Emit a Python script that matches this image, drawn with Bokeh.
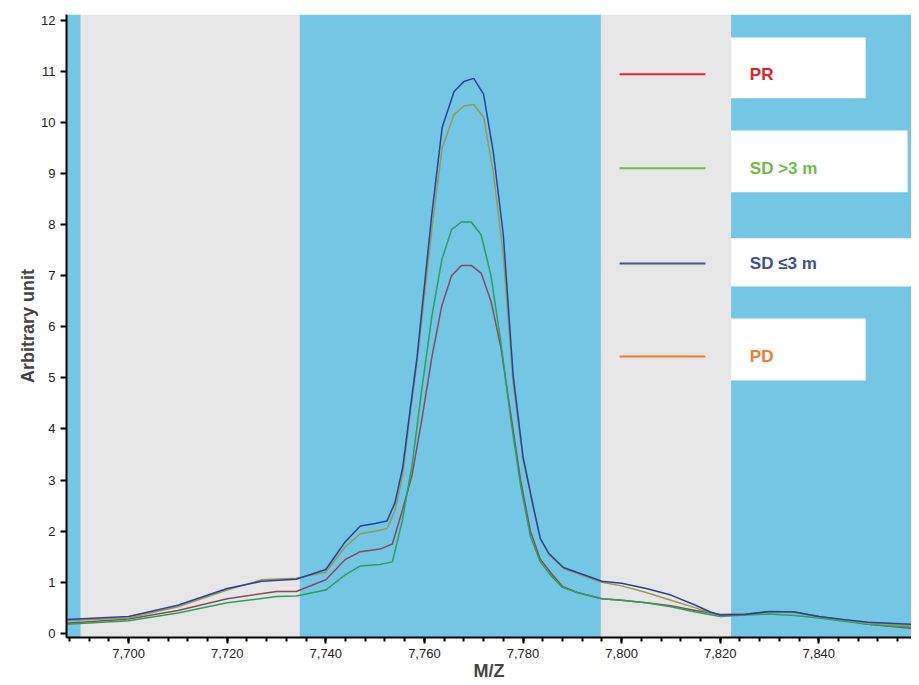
from bokeh.plotting import figure
from bokeh.models import NumeralTickFormatter, Range1d, FixedTicker
from bokeh.core.properties import value
from bokeh.embed import file_html
from bokeh.resources import INLINE

# background bands (m/z) and colours
band_x0 = [7687.4, 7690.3, 7734.7, 7795.8, 7822.2]
band_x1 = [7690.3, 7734.7, 7795.8, 7822.2, 7858.8]
band_col = ["#74c6e5", "#e6e6e6", "#74c6e5", "#e6e6e6", "#74c6e5"]

mz_a = [7687.4, 7700, 7710, 7720, 7727, 7734, 7740, 7744, 7747, 7750,
        7752.4, 7754, 7755.6, 7757, 7758.5, 7760, 7761.5, 7763.6, 7766, 7768,
        7770, 7772, 7774, 7776, 7778, 7780, 7782, 7783.5, 7785.2, 7788.2,
        7796, 7800, 7805, 7810, 7815, 7818, 7820, 7825, 7830, 7835,
        7840, 7845, 7850, 7858.8]
sd_le3 = [0.27, 0.33, 0.55, 0.88, 1.02, 1.06, 1.25, 1.8, 2.1, 2.15,
          2.2, 2.55, 3.25, 4.3, 5.4, 6.8, 8.2, 9.9, 10.6, 10.8,
          10.86, 10.55, 9.4, 7.8, 5.05, 3.46, 2.52, 1.86, 1.57, 1.29,
          1.02, 0.98, 0.88, 0.75, 0.55, 0.42, 0.36, 0.37, 0.43, 0.42,
          0.33, 0.27, 0.22, 0.18]
pd_ = [0.25, 0.3, 0.52, 0.85, 1.05, 1.08, 1.2, 1.7, 1.95, 2.0,
       2.05, 2.4, 3.1, 4.2, 5.3, 6.6, 7.9, 9.5, 10.15, 10.32,
       10.35, 10.1, 9.0, 7.4, 4.9, 3.4, 2.5, 1.85, 1.55, 1.27,
       1.0, 0.93, 0.8, 0.65, 0.5, 0.4, 0.35, 0.37, 0.42, 0.41,
       0.32, 0.26, 0.2, 0.15]

mz_b = [7687.4, 7700, 7710, 7720, 7730, 7734, 7740, 7744, 7747, 7751,
        7753.5, 7755.5, 7757.5, 7759.5, 7761.5, 7763.5, 7765.5, 7767.5, 7769.5, 7771.5,
        7773.5, 7775.5, 7777.5, 7779.5, 7781.5, 7783.5, 7785.5, 7788, 7791, 7796,
        7800, 7805, 7810, 7815, 7820, 7825, 7830, 7835, 7840, 7850, 7858.8]
sd_gt3 = [0.18, 0.25, 0.4, 0.6, 0.72, 0.73, 0.85, 1.15, 1.32, 1.35,
          1.4, 2.2, 3.3, 4.8, 6.2, 7.3, 7.9, 8.05, 8.05, 7.8,
          7.0, 5.7, 4.2, 2.9, 1.9, 1.4, 1.15, 0.9, 0.8, 0.68,
          0.65, 0.6, 0.52, 0.42, 0.33, 0.36, 0.38, 0.35, 0.3, 0.18, 0.12]
pr = [0.2, 0.28, 0.45, 0.68, 0.82, 0.82, 1.05, 1.45, 1.6, 1.65,
      1.75, 2.4, 3.1, 4.2, 5.4, 6.4, 7.0, 7.2, 7.2, 7.05,
      6.5, 5.6, 4.3, 3.0, 2.0, 1.45, 1.2, 0.92, 0.8, 0.68,
      0.65, 0.6, 0.54, 0.45, 0.37, 0.38, 0.42, 0.42, 0.33, 0.18, 0.1]

# legend
leg_names = ["PR", "SD >3 m", "SD \u22643 m", "PD"]
leg_text_col = ["#e8202a", "#6cbd45", "#3a4fa0", "#f37a2c"]
leg_y = [10.94, 9.1, 7.24, 5.42]
leg_box_x1 = [7849.5, 7858.0, 7858.8, 7849.5]
leg_box_top = [11.66, 9.84, 7.73, 6.16]
leg_box_bot = [10.47, 8.63, 6.79, 4.95]

p = figure(output_backend="svg", toolbar_location=None,
           x_range=Range1d(7687.4, 7858.8), y_range=Range1d(-0.08, 12.11),
           frame_width=845, frame_height=623,
           min_border_left=66, min_border_top=14, min_border_right=0, min_border_bottom=0)
p.grid.visible = False
p.outline_line_color = None
p.background_fill_color = "white"

p.quad(left=band_x0, right=band_x1, bottom=-0.08, top=12.11, fill_color=band_col, line_color=None)

p.line(mz_b, pr, line_color="#8b4a5a", line_width=1.5)
p.line(mz_b, sd_gt3, line_color="#2aa05a", line_width=1.5)
p.line(mz_a, pd_, line_color="#9a9a4a", line_width=1.5)
p.line(mz_a, sd_le3, line_color="#2b3f9e", line_width=1.5)

p.quad(left=7822.2, right=leg_box_x1, bottom=leg_box_bot, top=leg_box_top,
       fill_color="white", line_color=None)
p.segment(x0=7799.6, x1=7817.0, y0=leg_y, y1=leg_y, line_color=leg_text_col, line_width=2)
p.text(x=7826, y=leg_y, text=leg_names, text_color=leg_text_col, text_baseline="middle",
       text_font=value("Liberation Sans"), text_font_style="bold", text_font_size="17px")

p.xaxis.ticker = FixedTicker(ticks=[7700, 7720, 7740, 7760, 7780, 7800, 7820, 7840],
                             minor_ticks=list(range(7688, 7860, 4)))
p.xaxis.formatter = NumeralTickFormatter(format="0,0")
p.yaxis.ticker = FixedTicker(ticks=list(range(0, 13)))
p.yaxis.minor_tick_line_color = None
for ax in (p.xaxis, p.yaxis):
    ax.axis_line_width = 2
    ax.axis_line_color = "black"
    ax.major_tick_line_width = 2
    ax.major_tick_out = 6
    ax.major_tick_in = 0
    ax.major_label_text_font = "Liberation Sans"
    ax.major_label_text_font_size = "13px"
    ax.major_label_text_color = "#222222"
    ax.axis_label_text_font = "Liberation Sans"
    ax.axis_label_text_font_style = "bold"
    ax.axis_label_text_font_size = "18px"
    ax.axis_label_standoff = 0
p.xaxis.minor_tick_out = 4
p.xaxis.minor_tick_in = 0
p.xaxis.minor_tick_line_width = 2
p.xaxis.axis_label = "M/Z"
p.yaxis.axis_label = "Arbitrary unit"

open("out.html", "w").write(file_html(p, INLINE))
